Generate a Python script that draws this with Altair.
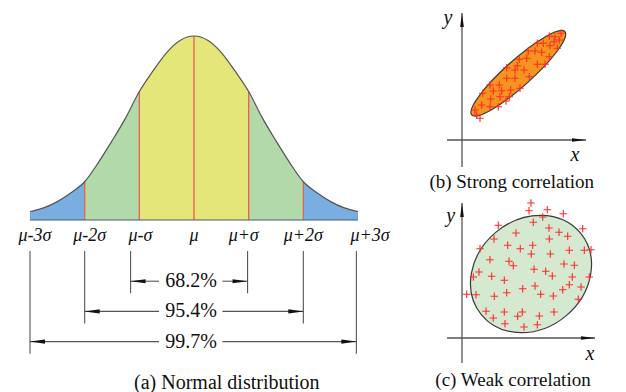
import altair as alt
import pandas as pd

# ---------------- data ----------------
# (a) normal curve (x in sigma units, height relative to peak)
sigma_x = [-3.0, -2.75, -2.5, -2.25, -2.0, -1.75, -1.5, -1.25, -1.0, -0.75, -0.5, -0.25, 0.0,
           0.25, 0.5, 0.75, 1.0, 1.25, 1.5, 1.75, 2.0, 2.25, 2.5, 2.75, 3.0]
curve_h = [0.046, 0.066, 0.100, 0.148, 0.208, 0.312, 0.43, 0.555, 0.698, 0.81, 0.91, 0.977, 1.0,
           0.977, 0.91, 0.81, 0.698, 0.555, 0.43, 0.312, 0.208, 0.148, 0.100, 0.066, 0.046]
band_segments = ["L3", "L2", "C", "R2", "R3"]
band_kind = ["tail", "mid", "core", "mid", "tail"]
band_lo = [-3, -2, -1, 1, 2]
band_hi = [-2, -1, 1, 2, 3]
divider_sigma = [-2, -1, 0, 1, 2]

tick_sigma = [-3, -2, -1, 0, 1, 2, 3]
tick_labels = ["μ-3σ", "μ-2σ", "μ-σ", "μ", "μ+σ", "μ+2σ", "μ+3σ"]

dim_labels = ["68.2%", "95.4%", "99.7%"]
dim_level = [1, 2, 3]
dim_left = [-1.16, -2.0, -3.0]
dim_right = [0.98, 2.0, 2.97]

# (b) strong correlation
strong_x = [9.9, 9.3, 8.73, 9.73, 9.2, 8.13, 7.53, 8.8, 9.53, 6.63, 7.3, 7.97, 8.73, 5.73, 6.47,
            7.53, 8.3, 5.53, 4.47, 5.3, 6.2, 4.47, 5.3, 6.73, 2.8, 3.73, 3.13, 3.97, 4.87, 2.07,
            5.8, 2.87, 4.73, 3.8, 1.97, 2.8, 3.63, 4.4, 1.3, 1.47, 1.8]
strong_y = [10.67, 10.33, 10.4, 10.0, 9.83, 9.67, 9.67, 9.43, 9.17, 8.9, 8.9, 8.77, 8.33, 8.07,
            8.17, 7.57, 7.57, 7.43, 7.23, 7.0, 7.0, 6.17, 6.17, 6.33, 5.5, 5.5, 4.9, 4.93, 5.0,
            4.67, 5.17, 4.1, 4.33, 4.33, 3.5, 3.33, 3.33, 3.9, 3.0, 2.5, 2.17]
strong_center = [5.63, 6.67]

# (c) weak correlation
weak_x = [6.9, 6.7, 8.53, 10.13, 3.63, 7.13, 8.07, 8.7, 9.7, 10.57, 12.07, 5.4, 3.2, 8.73, 1.8,
          4.57, 5.83, 7.07, 10.73, 12.23, 12.9, 2.8, 4.7, 6.93, 8.83, 5.13, 10.2, 11.23, 7.2,
          8.37, 9.03, 1.7, 2.97, 1.13, 4.23, 11.03, 12.73, 6.07, 7.3, 10.73, 11.9, 0.47, 1.4,
          3.23, 4.47, 7.87, 9.13, 10.07, 11.63, 2.4, 4.23, 6.03, 9.2, 3.13, 5.57, 7.73, 4.3,
          6.2, 7.53]
weak_y = [13.5, 12.73, 12.83, 12.43, 11.27, 11.57, 12.1, 11.0, 10.57, 10.17, 10.93, 10.5, 9.9,
          9.9, 8.93, 9.27, 8.93, 9.27, 8.77, 8.77, 8.83, 7.83, 7.67, 8.4, 8.4, 7.23, 7.4, 7.27,
          6.87, 6.67, 6.2, 6.6, 6.17, 6.1, 5.77, 6.1, 6.1, 4.93, 5.2, 5.33, 5.1, 4.37, 4.33,
          4.17, 4.53, 4.37, 4.2, 4.83, 3.87, 2.67, 2.6, 2.6, 2.6, 2.0, 2.17, 2.2, 1.43, 1.1, 1.33]
weak_center = [6.9, 6.4]

# ---------------- tables ----------------
curve_df = pd.DataFrame({"s": sigma_x, "h": curve_h})
rows = []
for seg, kind, lo, hi in zip(band_segments, band_kind, band_lo, band_hi):
    for s, h in zip(sigma_x, curve_h):
        if lo <= s <= hi:
            rows.append({"seg": seg, "band": kind, "s": s, "h": h})
band_df = pd.DataFrame(rows)
tick_df = pd.DataFrame({"s": tick_sigma, "label": tick_labels})
dim_df = pd.DataFrame({"level": dim_level, "left": dim_left, "right": dim_right, "label": dim_labels})
strong_df = pd.DataFrame({"x": strong_x, "y": strong_y})
weak_df = pd.DataFrame({"x": weak_x, "y": weak_y})
strong_c = pd.DataFrame({"x": [strong_center[0]], "y": [strong_center[1]]})
weak_c = pd.DataFrame({"x": [weak_center[0]], "y": [weak_center[1]]})
one = pd.DataFrame({"k": [0]})

# ---------------- scales (pixel placement of each panel) ----------------
def sc(dom, rng):
    return alt.Scale(domain=dom, range=rng, nice=False, zero=False)

XA = sc([-3, 3], [30, 358])
YA = sc([0, 1], [220, 36])
YD = sc([0, 3], [251, 341.6])
XB = sc([0, 10], [462, 562])
YB = sc([0, 10], [140, 40])
XC = sc([0, 10], [462, 562])
YC = sc([0, 10], [338, 238])

SERIF = "Liberation Serif, Times New Roman, DejaVu Serif, serif"
LINE = "#555555"
HEAD = "#111111"

k = 0.5523


def ellipse_path(e):
    return (f"M 1 0 C 1 {k*e:.4f} {k:.4f} {e:.4f} 0 {e:.4f} "
            f"C {-k:.4f} {e:.4f} -1 {k*e:.4f} -1 0 "
            f"C -1 {-k*e:.4f} {-k:.4f} {-e:.4f} 0 {-e:.4f} "
            f"C {k:.4f} {-e:.4f} 1 {-k*e:.4f} 1 0 Z")


PLUS = "M -1 0 L 1 0 M 0 -1 L 0 1"
ARROW_L = "M 0 0 L 2 -0.27 L 2 0.27 Z"
ARROW_R = "M 0 0 L -2 -0.27 L -2 0.27 Z"
ARROW_UP = "M 0 0 L -0.26 2 L 0.26 2 Z"
AX_R = "M 0 0 L -2 -0.26 L -2 0.26 Z"


def consts(**kw):
    """one-row chart with constant fields"""
    c = alt.Chart(one)
    return c.transform_calculate(**{k_: repr(float(v)) for k_, v in kw.items()})


def X(f, s):
    return alt.X(f, type="quantitative", scale=s, axis=None)


def Y(f, s):
    return alt.Y(f, type="quantitative", scale=s, axis=None, stack=None)


layers = []

# ---------- (a) normal distribution ----------
layers.append(
    alt.Chart(band_df).mark_area(interpolate="monotone").encode(
        x=X("s", XA), y=Y("h", YA),
        color=alt.Color("band:N", scale=alt.Scale(domain=["tail", "mid", "core"],
                                                  range=["#7aaee0", "#b2d9aa", "#e5e67a"]),
                        legend=None),
        detail="seg:N",
    )
)
layers.append(
    alt.Chart(curve_df).transform_filter(alt.FieldOneOfPredicate(field="s", oneOf=divider_sigma))
    .transform_calculate(base="0")
    .mark_rule(color="#e8604a", strokeWidth=1.3)
    .encode(x=X("s", XA), y=Y("h", YA), y2="base:Q")
)
layers.append(
    alt.Chart(curve_df).mark_line(interpolate="monotone", color=LINE, strokeWidth=1.2).encode(
        x=X("s", XA), y=Y("h", YA))
)
layers.append(
    consts(x0=-3, x1=3, y0=0).mark_rule(color="#4a5a6a", strokeWidth=1.2).encode(
        x=X("x0", XA), x2="x1:Q", y=Y("y0", YA))
)
# tick labels (small horizontal nudges as in the original drawing)
label_nudge = {-3: 5, -2: 5, -1: 1, 0: 0, 1: -5, 2: 0, 3: 12}
for s_val, nudge in label_nudge.items():
    layers.append(
        alt.Chart(tick_df).transform_filter(alt.datum.s == s_val)
        .mark_text(font=SERIF, fontStyle="italic", fontSize=18, color="#111",
                   baseline="middle", dx=nudge).encode(
            x=X("s", XA), y=alt.value(236), text="label:N")
    )
# extension lines
layers.append(
    alt.Chart(dim_df).transform_fold(["left", "right"], as_=["side", "s"])
    .transform_calculate(top="0", bottom="datum.level + 0.4")
    .mark_rule(color=LINE, strokeWidth=1.1).encode(
        x=X("s", XA), y=Y("top", YD), y2="bottom:Q")
)
# dimension lines with a gap for the text
layers.append(
    alt.Chart(dim_df).transform_calculate(gap="-0.64")
    .mark_rule(color=LINE, strokeWidth=1.1).encode(
        x=X("left", XA), x2="gap:Q", y=Y("level", YD))
)
layers.append(
    alt.Chart(dim_df).transform_calculate(gap="0.52")
    .mark_rule(color=LINE, strokeWidth=1.1).encode(
        x=X("gap", XA), x2="right:Q", y=Y("level", YD))
)
layers.append(
    alt.Chart(dim_df).mark_point(shape=ARROW_L, size=225, filled=True, color=HEAD, opacity=1,
                                 strokeWidth=0).encode(x=X("left", XA), y=Y("level", YD))
)
layers.append(
    alt.Chart(dim_df).mark_point(shape=ARROW_R, size=225, filled=True, color=HEAD, opacity=1,
                                 strokeWidth=0).encode(x=X("right", XA), y=Y("level", YD))
)
layers.append(
    alt.Chart(dim_df).transform_calculate(mid="0")
    .mark_text(font=SERIF, fontSize=20, color="#111", baseline="middle", dx=-3).encode(
        x=X("mid", XA), y=Y("level", YD), text="label:N")
)
layers.append(
    consts(cx=0.6).mark_text(font=SERIF, fontSize=20, color="#111", baseline="middle",
                             text="(a) Normal distribution").encode(
        x=X("cx", XA), y=alt.value(383))
)


# ---------- (b) and (c) scatter panels ----------
def panel(XS, YS, pts, center, e, size, angle, fill, xtip, ytip, xlo, ylo, ylab, xlab, cap, cap_xy):
    out = []
    out.append(consts(a=xlo, b=xtip, c=0).mark_rule(color=LINE, strokeWidth=1.3).encode(
        x=X("a", XS), x2="b:Q", y=Y("c", YS)))
    out.append(consts(a=0, b=ylo, c=ytip).mark_rule(color=LINE, strokeWidth=1.3).encode(
        x=X("a", XS), y=Y("b", YS), y2="c:Q"))
    out.append(consts(a=xtip, b=0).mark_point(shape=AX_R, size=196, filled=True, color=HEAD,
                                              opacity=1, strokeWidth=0).encode(
        x=X("a", XS), y=Y("b", YS)))
    out.append(consts(a=0, b=ytip).mark_point(shape=ARROW_UP, size=196, filled=True, color=HEAD,
                                              opacity=1, strokeWidth=0).encode(
        x=X("a", XS), y=Y("b", YS)))
    out.append(alt.Chart(center).mark_point(shape=ellipse_path(e), size=size, angle=angle,
                                            filled=True, fill=fill, stroke="#3a3a3a",
                                            strokeWidth=1.2, opacity=1).encode(
        x=X("x", XS), y=Y("y", YS)))
    out.append(alt.Chart(pts).mark_point(shape=PLUS, size=56, filled=False, stroke="#ff2a2a",
                                         strokeWidth=1.1, opacity=1).encode(
        x=X("x", XS), y=Y("y", YS)))
    out.append(consts(a=ylab[0], b=ylab[1]).mark_text(font=SERIF, fontStyle="italic", fontSize=20,
                                                      color="#111", baseline="middle",
                                                      text="y").encode(
        x=X("a", XS), y=Y("b", YS)))
    out.append(consts(a=xlab[0], b=xlab[1]).mark_text(font=SERIF, fontStyle="italic", fontSize=20,
                                                      color="#111", baseline="middle",
                                                      text="x").encode(
        x=X("a", XS), y=Y("b", YS)))
    out.append(consts(a=cap_xy[0], b=cap_xy[1]).mark_text(font=SERIF, fontSize=19, color="#111",
                                                          baseline="middle", text=cap).encode(
        x=X("a", XS), y=Y("b", YS)))
    return out


layers += panel(XB, YB, strong_df, strong_c, 0.21, 15625, 318.2, "#f7941e",
                12.4, 12.7, -1.5, -2.7, (-1.4, 12.2), (11.3, -1.5),
                "(b) Strong correlation", (4.97, -4.2))
layers += panel(XC, YC, weak_df, weak_c, 0.85, 16487, 320.5, "#d5e8d0",
                13.3, 13.5, -1.5, -2.5, (-1.13, 12.2), (12.8, -1.6),
                "(c) Weak correlation", (5.1, -4.2))

chart = alt.layer(*layers).resolve_scale(
    x="independent", y="independent", color="independent"
).properties(
    width=626, height=392, padding=0,
    autosize=alt.AutoSizeParams(type="none"),
).configure_view(stroke=None)

chart.save("out.html", embed_options={"renderer": "svg", "actions": False})
